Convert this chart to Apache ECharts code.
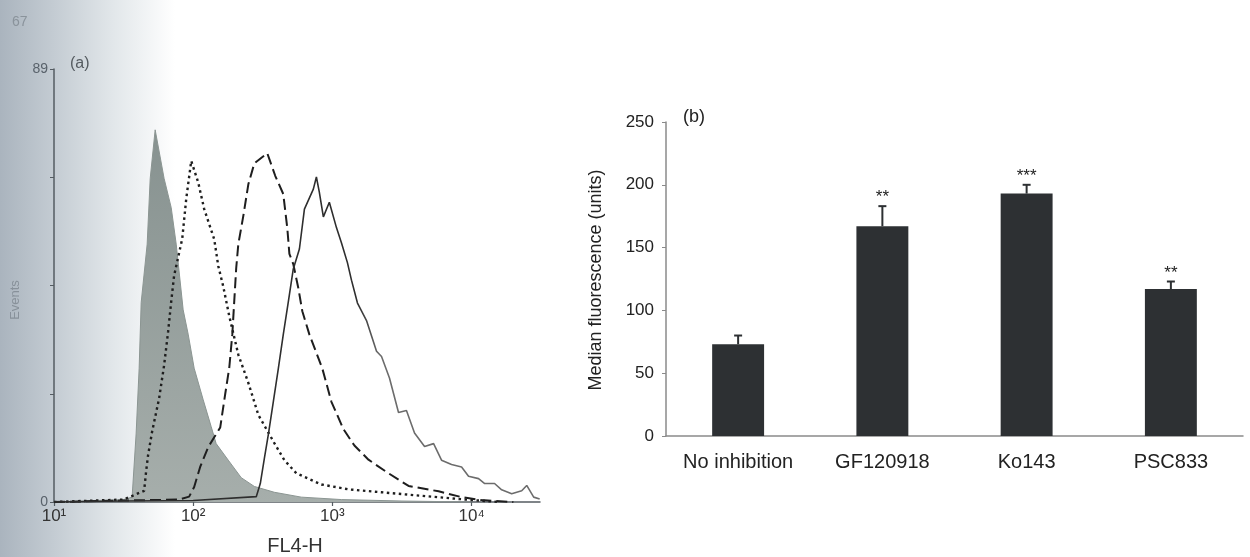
<!DOCTYPE html>
<html><head><meta charset="utf-8">
<script src="https://cdn.jsdelivr.net/npm/echarts@6/dist/echarts.min.js"></script>
<style>html,body{margin:0;padding:0;background:#fff}#c{width:1250px;height:557px}</style>
</head><body><div id="c"></div>
<script>
// ---------- Panel (a): FL4-H histogram (x = FL4-H, y = events) ----------
const grayX   = [10, 20, 31.6, 36.4, 38.9, 40.9, 42.3, 46.7, 49.1, 53.3, 61.8, 69.5, 75.5, 84.7, 92, 101.6, 118, 134.6, 146.2, 178.6, 221.3, 274.8, 382.8, 598, 1161, 3162, 10000];
const grayY   = [0, 0.3, 0.5, 1, 14, 27.5, 41, 53, 66.5, 76.5, 66.5, 60.5, 53, 39.5, 34.5, 27.5, 21, 15.5, 12, 8.6, 5, 3.2, 2, 1, 0.5, 0.2, 0];

const dottedX = [10, 31.6, 44.4, 45.9, 47.4, 50.7, 56.9, 61.8, 66.1, 69.5, 72.9, 83.4, 89.1, 96.8, 108.6, 120, 141.6, 151.4, 164.4, 181.6, 210.9, 248.9, 293.8, 382.8, 451.9, 550.8, 833.7, 1303, 2254, 3890, 10000, 15849];
const dottedY = [0, 0.5, 2.3, 6.3, 9.6, 14.5, 21.3, 28.1, 35.1, 41.2, 46.5, 54.1, 62.3, 70.1, 65.7, 60.2, 54, 48.5, 44.3, 38.2, 30.3, 24.5, 17.9, 12.1, 8.6, 5.9, 3.6, 2.6, 2.0, 1.4, 0.4, 0];

const dashedX = [10, 31.6, 79.4, 93.5, 101.6, 112.2, 128.2, 156.3, 169.8, 181.6, 191, 197.2, 203.7, 210.9, 229.1, 248.9, 274.8, 340.4, 389, 443.6, 474.2, 490.9, 523.6, 568.9, 608.1, 683.9, 847.2, 984, 1199, 1439, 1816, 2529, 3524, 5794, 8472, 11750, 19950];
const dashedY = [0, 0.3, 0.5, 1.1, 3.1, 7.2, 11.3, 15.3, 22.2, 27.6, 34.5, 41.3, 48.1, 53, 58.8, 65.3, 69.6, 71.7, 67, 63.3, 56.3, 51, 48.9, 44, 39.2, 34.4, 27.4, 20.6, 15, 11.6, 8.7, 5.9, 3.3, 2.2, 1.0, 0.4, 0];

const solidX  = [10, 31.6, 100, 283.8, 303.4, 324.3, 346.7, 376.7, 409.3, 443.6, 481.9, 523.6, 579.4, 629.5, 729.5, 767.4, 805.4, 861, 950.6, 1069, 1161, 1282, 1371, 1514, 1758, 2075, 2254, 2570, 2985, 3404, 3890, 4592, 5333, 6081, 7178, 8472, 9506, 11220, 12420, 14620, 16440, 19410, 22910, 24890, 27930, 30830];
const solidY  = [0, 0.2, 0.3, 1.1, 3.8, 8.9, 13.9, 20.7, 27.5, 34.4, 41.1, 47.9, 52, 60.2, 64.3, 66.8, 63.7, 58.6, 61.6, 56.4, 53.3, 49.2, 45.6, 40.9, 37.3, 31, 29.9, 25.5, 18.4, 18.8, 14.2, 11.4, 12, 8.6, 7.7, 7.2, 5.3, 4.8, 3.8, 3.8, 2.5, 1.7, 2.3, 3.4, 1.0, 0.6];

const xTickValues = [10, 100, 1000, 10000];
const xTickLabels = ['10¹', '10²', '10³', '10⁴'];
const yTicksA     = [0, 22.25, 44.5, 66.75, 89];
const yLabelsA    = [0, 89];

// ---------- Panel (b): median fluorescence ----------
const categories = ['No inhibition', 'GF120918', 'Ko143', 'PSC833'];
const medians    = [73, 167, 193, 117];
const errTops    = [80, 183, 200, 123];
const signif     = ['', '**', '***', '**'];

const FONT = 'Liberation Sans, Arial, Helvetica, sans-serif';
const zip = (xs, ys) => xs.map((x, i) => [x, ys[i]]);

const chart = echarts.init(document.getElementById('c'), null, {renderer: 'canvas'});

const option = {
  animation: false,
  backgroundColor: '#ffffff',
  textStyle: {fontFamily: FONT},
  graphic: [
    {type: 'rect', z: -10, silent: true, shape: {x: 0, y: 0, width: 175, height: 557},
     style: {fill: new echarts.graphic.LinearGradient(0, 0, 1, 0, [
       {offset: 0, color: '#aab4be'}, {offset: 0.3, color: '#c3cbd2'},
       {offset: 0.65, color: '#e2e7ea'}, {offset: 1, color: '#ffffff'}])}},
    {type: 'text', x: 12, y: 22, style: {text: '67', fill: '#8a939b', font: '14px ' + FONT, textVerticalAlign: 'middle'}},
    {type: 'text', x: 70, y: 64, style: {text: '(a)', fill: '#555b60', font: '16px ' + FONT, textVerticalAlign: 'middle'}},
    {type: 'text', x: 15, y: 300, rotation: Math.PI / 2, style: {text: 'Events', fill: '#88919a', font: '13px ' + FONT, textAlign: 'center', textVerticalAlign: 'middle'}},
    {type: 'text', x: 295, y: 546, style: {text: 'FL4-H', fill: '#333', font: '20px ' + FONT, textAlign: 'center', textVerticalAlign: 'middle'}},
    {type: 'text', x: 683, y: 117, style: {text: '(b)', fill: '#222', font: '18px ' + FONT, textVerticalAlign: 'middle'}},
    {type: 'text', x: 596, y: 280, rotation: Math.PI / 2, style: {text: 'Median fluorescence (units)', fill: '#222', font: '18px ' + FONT, textAlign: 'center', textVerticalAlign: 'middle'}}
  ],
  grid: [
    {left: 54, top: 69, width: 486, height: 433},
    {left: 666, top: 122, width: 577, height: 314}
  ],
  xAxis: [
    {type: 'log', logBase: 10, gridIndex: 0, min: 10, max: 31000,
     axisLine: {lineStyle: {color: '#555c62', width: 1.5}},
     axisTick: {customValues: xTickValues, length: 4, lineStyle: {color: '#555c62', width: 1.2}},
     axisLabel: {customValues: xTickValues, margin: 6, color: '#333', fontSize: 17, fontFamily: FONT,
       formatter: v => xTickLabels[xTickValues.findIndex(t => Math.abs(t - v) / t < 0.01)] || ''},
     splitLine: {show: false}, minorTick: {show: false}},
    {type: 'category', gridIndex: 1, data: categories,
     axisLine: {lineStyle: {color: '#8a8a8a', width: 1.5}},
     axisTick: {length: 5, lineStyle: {color: '#8a8a8a'}},
     axisLabel: {margin: 16, color: '#222', fontSize: 20, fontFamily: FONT},
     splitLine: {show: false}}
  ],
  yAxis: [
    {type: 'value', gridIndex: 0, min: 0, max: 89,
     axisLine: {show: true, lineStyle: {color: '#555c62', width: 1.5}},
     axisTick: {show: true, customValues: yTicksA, length: 4, lineStyle: {color: '#555c62'}},
     axisLabel: {customValues: yLabelsA, margin: 6, color: '#59626b', fontSize: 14, fontFamily: FONT},
     splitLine: {show: false}},
    {type: 'value', gridIndex: 1, min: 0, max: 250, interval: 50,
     axisLine: {show: true, lineStyle: {color: '#8a8a8a', width: 1.5}},
     axisTick: {show: true, length: 4, lineStyle: {color: '#8a8a8a'}},
     axisLabel: {margin: 12, color: '#222', fontSize: 17, fontFamily: FONT},
     splitLine: {show: false}}
  ],
  series: [
    {type: 'line', xAxisIndex: 0, yAxisIndex: 0, data: zip(grayX, grayY), showSymbol: false, z: 2,
     lineStyle: {color: '#8b9592', width: 1},
     areaStyle: {opacity: 1, color: new echarts.graphic.LinearGradient(0, 0, 0, 1, [
       {offset: 0, color: '#879290'}, {offset: 1, color: '#a6aeab'}])}},
    {type: 'line', xAxisIndex: 0, yAxisIndex: 0, data: zip(dottedX, dottedY), showSymbol: false, z: 3,
     lineStyle: {color: '#1e1e1e', width: 2.4, type: [2.5, 3.5]}},
    {type: 'line', xAxisIndex: 0, yAxisIndex: 0, data: zip(dashedX, dashedY), showSymbol: false, z: 3,
     lineStyle: {color: '#1e1e1e', width: 2, type: [11, 5]}},
    {type: 'line', xAxisIndex: 0, yAxisIndex: 0, data: zip(solidX, solidY), showSymbol: false, z: 3,
     lineStyle: {width: 1.6, color: new echarts.graphic.LinearGradient(0, 0, 1, 0, [
       {offset: 0, color: '#2e2e2e'}, {offset: 0.62, color: '#2e2e2e'},
       {offset: 0.67, color: '#6c6c6c'}, {offset: 1, color: '#6c6c6c'}])}},
    {type: 'bar', xAxisIndex: 1, yAxisIndex: 1, data: medians, barWidth: '36%',
     itemStyle: {color: '#2d3033'}},
    {type: 'custom', xAxisIndex: 1, yAxisIndex: 1, z: 5,
     data: categories.map((c, i) => [i, medians[i], errTops[i]]),
     renderItem: (params, api) => {
       const i = api.value(0);
       const base = api.coord([i, api.value(1)]);
       const top = api.coord([i, api.value(2)]);
       const st = {stroke: '#2d3033', lineWidth: 2};
       return {type: 'group', children: [
         {type: 'line', shape: {x1: base[0], y1: base[1], x2: top[0], y2: top[1]}, style: st},
         {type: 'line', shape: {x1: top[0] - 4, y1: top[1], x2: top[0] + 4, y2: top[1]}, style: st},
         {type: 'text', x: top[0], y: top[1], style: {text: signif[i], fill: '#222', font: '17px ' + FONT, textAlign: 'center', textVerticalAlign: 'bottom'}}
       ]};
     }}
  ]
};
chart.setOption(option);
</script></body></html>
